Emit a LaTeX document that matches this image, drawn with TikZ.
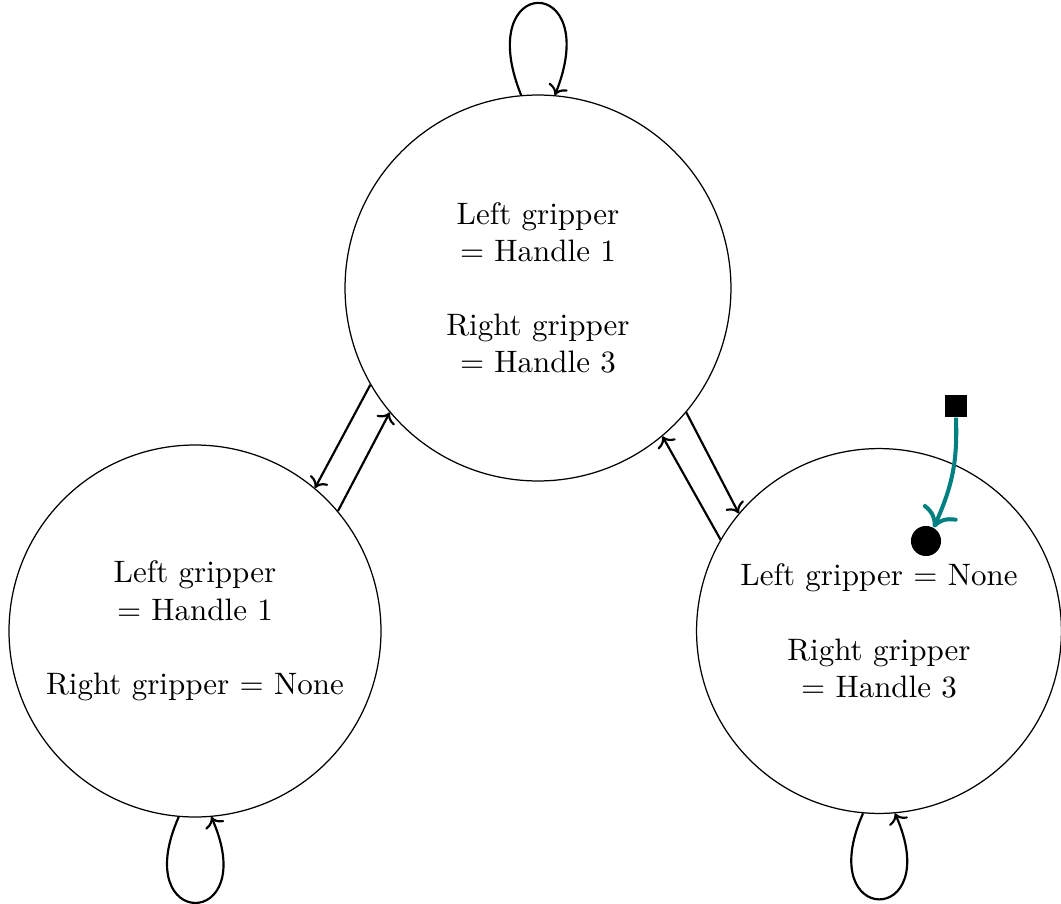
\documentclass[tikz,border=0pt]{standalone}
\usetikzlibrary{arrows.meta}
\begin{document}
\begin{tikzpicture}[x=0.32258pt,y=-0.32258pt,
  state/.style={draw, circle, inner sep=0pt, align=center, line width=0.4pt},
  conn/.style={->, line width=0.7pt},
  loopline/.style={->, line width=0.7pt},
  startarrow/.style={-{To[scale=1.3]}, draw=teal, line width=1.3pt},
  startsq/.style={fill=black, minimum size=7.1pt, inner sep=0pt},
  startdot/.style={circle, fill=black, minimum size=9.7pt, inner sep=0pt}]
\useasboundingbox (0,0) rectangle (1061,904);
\node[state, minimum size=124.5pt] (top) at (538,288) {Left gripper\\= Handle 1\\[12pt]Right gripper\\= Handle 3};
\node[state, minimum size=120pt] (left) at (195,631) {Left gripper\\= Handle 1\\[12pt]Right gripper = None};
\node[state, minimum size=117.7pt] (right) at (879,631) {Left gripper = None\\[12pt]Right gripper\\= Handle 3};
% transitions between states
\draw[conn] (top.210) -- (left.50);
\draw[conn] (left.40) -- (top.220);
\draw[conn] (top.320) -- (right.140);
\draw[conn] (right.150) -- (top.310);
% self loops
\draw[loopline] (top.95) .. controls +(112:42.7pt) and +(68:42.7pt) .. (top.85);
\draw[loopline] (left.265) .. controls +(246:40.4pt) and +(294:40.4pt) .. (left.275);
\draw[loopline] (right.265) .. controls +(246:40.4pt) and +(294:40.4pt) .. (right.275);
% start marker
\node[startsq] (s) at (956,406) {};
\node[startdot] (d) at (926,541) {};
\draw[startarrow] (s.south) .. controls +(272:14pt) and +(66:15pt) .. (d.60);
\end{tikzpicture}
\end{document}
